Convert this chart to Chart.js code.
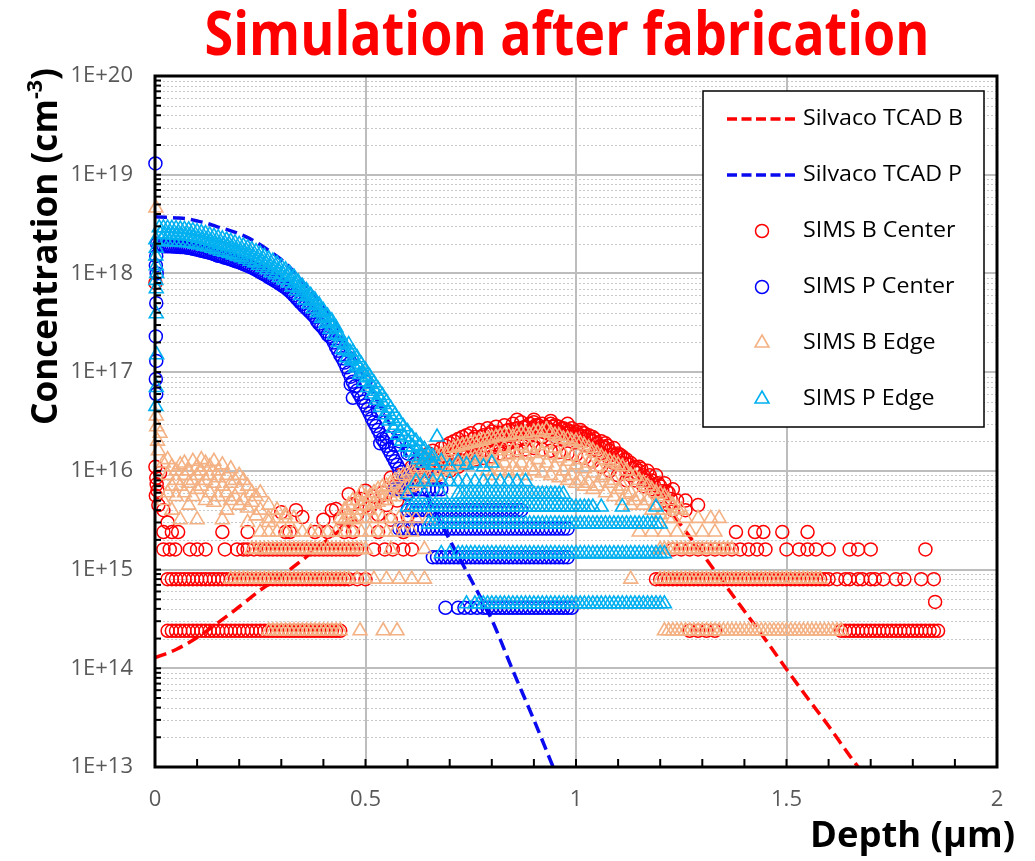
<!DOCTYPE html>
<html>
<head>
<meta charset="utf-8">
<script src="https://cdn.jsdelivr.net/npm/chart.js@4.4.1/dist/chart.umd.min.js"></script>
<style>
body{margin:0;background:#fff}
canvas{display:block}
</style>
</head>
<body>
<canvas id="graficoSims" width="1035" height="861"></canvas>
<script>

// eixos
const xTicks=[0,0.5,1,1.5,2]
const xTickLabels=['0','0.5','1','1.5','2']
const yTicks=[1e13,1e14,1e15,1e16,1e17,1e18,1e19,1e20]
const yTickLabels=['1E+13','1E+14','1E+15','1E+16','1E+17','1E+18','1E+19','1E+20']

const nomesSeries=['Silvaco TCAD B','Silvaco TCAD P','SIMS B Center','SIMS P Center','SIMS B Edge','SIMS P Edge']

// simulacao TCAD [profundidade um, concentracao cm-3]
const tcadB=[[0,1.28e14],[0.05,1.55e14],[0.1,2.05e14],[0.15,2.9e14],[0.2,4.2e14],[0.25,6.2e14],[0.3,8.6e14],[0.35,1.25e15],[0.4,1.85e15],[0.45,2.7e15],[0.5,3.8e15],[0.6,7e15],[0.7,1.2e16],[0.8,1.8e16],[0.9,2.2e16],[1,2e16],[1.1,1.3e16],[1.2,5.5e15],[1.25,2.8e15],[1.3,1.45e15],[1.35,7.4e14],[1.4,3.8e14],[1.45,1.95e14],[1.5,9.8e13],[1.55,5e13],[1.6,2.6e13],[1.65,1.3e13],[1.7,6.8e12]]

const tcadP=[[0,3.75e18],[0.025,3.7e18],[0.05,3.65e18],[0.075,3.58e18],[0.1,3.4e18],[0.125,3.2e18],[0.15,2.95e18],[0.175,2.75e18],[0.2,2.52e18],[0.225,2.25e18],[0.25,1.95e18],[0.275,1.65e18],[0.3,1.38e18],[0.325,1.1e18],[0.35,8.3e17],[0.375,6.4e17],[0.4,4.6e17],[0.425,3.4e17],[0.45,2.05e17],[0.475,1.35e17],[0.5,8.5e16],[0.55,3.4e16],[0.6,1.35e16],[0.65,5.2e15],[0.7,2e15],[0.75,8e14],[0.8,3.1e14],[0.85,9.5e13],[0.9,3e13],[0.95,9e12]]

// SIMS B centro: pontos soltos e linhas de nivel (quantizadas)
const bCentroPontos=[[0.001,8e17],[0.001,1.1e16],[0.003,8.5e15],[0.004,7.3e15],[0.002,5.6e15],[0.006,6.3e15],[0.008,4.5e15],[0.02,4e15],[0.03,3e15],[0.012,9.5e15],
[0.3,3.8e15],[0.335,4e15],[0.35,3.4e15],[0.4,3.2e15],[0.42,4e15],[0.43,4.1e15],[0.44,3.3e15],[0.46,5.8e15],[0.47,4.6e15],[0.48,3.6e15],[0.49,5.2e15],[0.5,6.3e15],[0.51,4.2e15],[0.52,5.5e15],[0.53,3.6e15],[0.54,6e15],[0.55,4.5e15],[0.56,8.5e15],[0.57,7e15],[0.575,5e15],[0.58,9e15],[0.59,7.5e15],[0.53,2.4e15],[0.56,3.2e15],[0.59,2.4e15],[0.6,3.5e15],[0.61,1.6e15],
[0.6,9e15],[0.6,6e15],[0.61,1.1e16],[0.61,7e15],[0.62,1.2e16],[0.62,8e15],[0.63,1e16],[0.63,1.4e16],[0.64,1.3e16],[0.64,8.5e15],[0.65,1.5e16],[0.65,1e16],[0.66,1.2e16],[0.66,1.6e16],[0.67,1.4e16],[0.67,9e15],[0.68,1.7e16],[0.68,1.1e16],[0.69,1.3e16],[0.69,1.8e16],[0.7,1.9e16],[0.7,1.2e16],[0.71,1.5e16],[0.71,2e16],[0.72,2.1e16],[0.72,1.3e16],[0.73,1.7e16],[0.73,2.2e16],[0.74,2.3e16],[0.74,1.4e16],[0.75,1.8e16],[0.75,2.4e16],[0.76,2.2e16],[0.76,1.5e16],[0.77,2.6e16],[0.77,1.9e16],[0.78,2.3e16],[0.78,1.6e16],[0.79,2.7e16],[0.79,2e16],[0.8,2.5e16],[0.8,1.7e16],[0.81,2.8e16],[0.81,2.1e16],[0.82,2.4e16],[0.82,1.8e16],[0.83,2.9e16],[0.83,2.2e16],[0.84,2.6e16],[0.84,1.9e16],[0.85,3e16],[0.85,2.3e16],[0.86,2.7e16],[0.86,2e16],[0.87,3.1e16],[0.87,2.4e16],[0.88,2.8e16],[0.88,2.1e16],[0.89,3e16],[0.89,2.3e16],[0.9,2.7e16],[0.9,3.1e16],[0.91,2.5e16],[0.91,2.9e16],[0.92,3e16],[0.92,2.2e16],[0.93,2.8e16],[0.93,2.4e16],[0.94,2.6e16],[0.94,3e16],[0.95,2.9e16],[0.95,2.2e16],[0.96,2.5e16],[0.96,2.8e16],[0.97,2.7e16],[0.97,2.1e16],[0.98,2.4e16],[0.98,2.6e16],[0.99,2.2e16],[0.99,2.7e16],[1,2.5e16],[1,2e16],[1.01,2.3e16],[1.01,2.6e16],[1.02,2.1e16],[1.02,2.4e16],[1.03,2.3e16],[1.03,1.8e16],[1.04,2e16],[1.04,2.2e16],[1.05,1.9e16],[1.05,1.6e16],[1.06,2e16],[1.06,1.5e16],[1.07,1.7e16],[1.07,1.9e16],[1.08,1.6e16],[1.08,1.3e16],[1.09,1.7e16],[1.09,1.2e16],[1.1,1.4e16],[1.1,1.5e16],[1.11,1.2e16],[1.11,1.4e16],[1.12,1.3e16],[1.12,1e16],[1.13,1.2e16],[1.13,9e15],[1.14,1.1e16],[1.14,8e15],[1.15,1e16],[1.15,1.1e16],[1.16,9e15],[1.16,7e15],[1.17,1e16],[1.17,8e15],[1.18,8e15],[1.18,6.5e15],[1.19,9e15],[1.19,6e15],[1.2,7e15],[1.2,5.5e15],[1.21,7.5e15],[1.21,5e15],[1.22,6e15],[1.22,4.5e15],[1.23,6.5e15],[1.23,4e15],[1.24,5e15],[1.26,4e15],[1.26,5e15],[1.29,4.5e15],
[0.605,7.5e15],[0.615,9e15],[0.625,1e16],[0.635,1.15e16],[0.645,1.05e16],[0.655,1.25e16],[0.665,1.4e16],[0.675,1.15e16],[0.685,1.4e16],[0.695,1.55e16],[0.705,1.5e16],[0.715,1.75e16],[0.725,1.65e16],[0.735,1.95e16],[0.745,1.8e16],[0.755,2.1e16],[0.765,1.85e16],[0.775,2.2e16],[0.785,1.95e16],[0.795,2.35e16],[0.805,2.1e16],[0.815,2.45e16],[0.825,2.1e16],[0.835,2.55e16],[0.845,2.25e16],[0.855,2.65e16],[0.865,2.35e16],[0.875,2.75e16],[0.885,2.45e16],[0.895,2.65e16],[0.905,2.9e16],[0.915,2.7e16],[0.925,2.55e16],[0.935,2.6e16],[0.945,2.8e16],[0.955,2.5e16],[0.965,2.65e16],[0.975,2.4e16],[0.985,2.5e16],[0.995,2.4e16],[1.005,2.25e16],[1.015,2.45e16],[1.025,2.2e16],[1.035,2.05e16],[1.045,2.1e16],[1.055,1.75e16],[1.065,1.75e16],[1.075,1.8e16],[1.085,1.45e16],[1.095,1.45e16],[1.105,1.45e16],[1.115,1.3e16],[1.125,1.15e16],[1.135,1.05e16],[1.145,9.5e15],[1.155,1.05e16],[1.165,8e15],[1.175,9e15],[1.185,7.2e15],[1.195,7.5e15],[1.205,6.2e15],[1.215,6.2e15],[1.225,5.2e15],
[0.7,1e16],[0.72,1.1e16],[0.74,1.2e16],[0.76,1.3e16],[0.78,1.35e16],[0.8,1.4e16],[0.82,1.5e16],[0.84,1.55e16],[0.86,1.6e16],[0.88,1.65e16],[0.9,1.7e16],[0.92,1.65e16],[0.94,1.6e16],[0.96,1.55e16],[0.98,1.5e16],[1,1.45e16],[1.02,1.35e16],[1.04,1.25e16],[1.06,1.1e16],[1.08,1e16],[1.1,9e15],[1.12,8e15],[0.86,3.3e16],[0.9,3.3e16],[0.94,3.2e16],[0.98,3e16]]

const bCentroNiveis=[
[2.4e14,[0.03,0.04,0.05,0.06,0.07,0.08,0.09,0.1,0.11,0.12,0.13,0.14,0.15,0.16,0.17,0.18,0.19,0.2,0.21,0.22,0.23,0.24,0.25,0.26,0.27,0.28,0.29,0.3,0.31,0.32,0.33,0.34,0.35,0.36,0.37,0.38,0.39,0.4,0.41,0.42,0.43,0.44,1.27,1.29,1.31,1.33,1.63,1.64,1.65,1.66,1.67,1.68,1.69,1.7,1.71,1.72,1.73,1.74,1.75,1.76,1.77,1.78,1.79,1.8,1.81,1.82,1.83,1.84,1.85,1.86]],
[8e14,[0.03,0.04,0.05,0.06,0.07,0.08,0.09,0.1,0.11,0.12,0.13,0.14,0.15,0.16,0.17,0.18,0.19,0.2,0.21,0.22,0.23,0.24,0.25,0.26,0.27,0.28,0.29,0.3,0.31,0.32,0.33,0.34,0.35,0.36,0.37,0.38,0.39,0.4,0.41,0.42,0.43,0.44,0.45,0.46,0.48,0.5,1.19,1.2,1.21,1.22,1.23,1.24,1.25,1.26,1.27,1.28,1.29,1.3,1.31,1.32,1.33,1.34,1.35,1.36,1.37,1.38,1.39,1.4,1.41,1.42,1.43,1.44,1.45,1.46,1.47,1.48,1.49,1.5,1.51,1.52,1.53,1.54,1.55,1.56,1.57,1.58,1.59,1.6,1.62,1.64,1.65,1.67,1.68,1.7,1.71,1.73,1.76,1.78,1.82,1.85]],
[1.6e15,[0.02,0.035,0.048,0.083,0.1,0.12,0.166,0.195,0.21,0.22,0.235,0.25,0.26,0.27,0.28,0.29,0.3,0.31,0.32,0.33,0.34,0.35,0.36,0.37,0.38,0.39,0.4,0.41,0.42,0.43,0.44,0.45,0.46,0.47,0.48,0.52,0.546,0.565,0.59,1.23,1.25,1.27,1.29,1.31,1.33,1.35,1.37,1.39,1.41,1.43,1.45,1.5,1.53,1.55,1.57,1.6,1.65,1.67,1.7,1.83]],
[2.4e15,[0.02,0.04,0.055,0.16,0.22,0.31,0.32,0.38,0.41,0.45,0.47,1.38,1.425,1.445,1.49,1.55]],
[4.7e14,[1.853]]
]

// SIMS P centro
const pCentroPontos=[[0.001,1.3e19],[0.005,2e18],[0.003,1.5e18],[0.002,1.2e18],[0.004,1e18],[0.003,5e17],[0.002,2.3e17],[0.003,1.3e17],[0.002,8.5e16],[0.003,6e16],
[0.01,1.93e18],[0.015,1.91e18],[0.02,1.89e18],[0.025,1.89e18],[0.03,1.89e18],[0.035,1.88e18],[0.04,1.88e18],[0.045,1.87e18],[0.05,1.87e18],[0.055,1.86e18],[0.06,1.85e18],[0.065,1.85e18],[0.07,1.85e18],[0.075,1.83e18],[0.08,1.82e18],[0.085,1.8e18],[0.09,1.78e18],[0.095,1.76e18],[0.1,1.75e18],[0.105,1.72e18],[0.11,1.7e18],[0.115,1.68e18],[0.12,1.66e18],[0.125,1.64e18],[0.13,1.62e18],[0.135,1.6e18],[0.14,1.57e18],[0.145,1.54e18],[0.15,1.51e18],[0.155,1.5e18],[0.16,1.48e18],[0.165,1.45e18],[0.17,1.43e18],[0.175,1.41e18],[0.18,1.39e18],[0.185,1.36e18],[0.19,1.34e18],[0.195,1.32e18],[0.2,1.3e18],[0.205,1.27e18],[0.21,1.25e18],[0.215,1.22e18],[0.22,1.2e18],[0.225,1.17e18],[0.23,1.15e18],[0.235,1.12e18],[0.24,1.09e18],[0.245,1.06e18],[0.25,1.03e18],[0.255,1e18],[0.26,9.8e17],[0.265,9.5e17],[0.27,9.2e17],[0.275,8.9e17],[0.28,8.7e17],[0.285,8.4e17],[0.29,8.2e17],[0.295,7.9e17],[0.3,7.7e17],[0.305,7.4e17],[0.31,7.2e17],[0.315,6.9e17],[0.32,6.6e17],[0.325,6.3e17],[0.33,6e17],[0.335,5.7e17],[0.34,5.4e17],[0.345,5.1e17],[0.35,4.9e17],[0.355,4.6e17],[0.36,4.4e17],[0.365,4.2e17],[0.37,4e17],[0.375,3.8e17],[0.38,3.6e17],[0.385,3.3e17],[0.39,3.1e17],[0.395,2.95e17],[0.4,2.8e17],[0.405,2.6e17],[0.41,2.4e17],[0.415,2.3e17],[0.42,2.2e17],[0.425,2e17],[0.43,1.8e17],[0.435,1.65e17],[0.44,1.5e17],[0.445,1.38e17],[0.45,1.25e17],[0.455,1.12e17],[0.46,1e17],[0.465,9e16],[0.47,8e16],[0.475,7.2e16],[0.48,6.5e16],[0.485,6e16],[0.49,5.5e16],[0.495,5e16],[0.5,4.6e16],[0.505,4.2e16],[0.51,3.8e16],[0.515,3.4e16],[0.52,3.1e16],[0.525,2.85e16],[0.53,2.6e16],[0.535,2.35e16],[0.54,2.1e16],[0.545,1.95e16],[0.55,1.8e16],[0.555,1.65e16],[0.56,1.5e16],[0.565,1.38e16],[0.57,1.25e16],[0.575,1.15e16],[0.58,1.05e16],[0.585,9.7e15],[0.59,9e15],[0.595,8.2e15],[0.6,7.5e15],
[0.465,7.5e16],[0.47,5.5e16],[0.535,1.9e16],[0.55,2.2e16],[0.57,1.8e16],[0.58,2e16],[0.6,1.5e16],[0.62,1.2e16],[0.64,1e16],[0.66,1.1e16],[0.53,4e16],[0.5,8e16],[0.585,6.8e15],[0.6,5.8e15]]

const pCentroNiveis=[
[6.5e15,[0.57,0.58,0.59,0.6,0.61,0.62,0.63,0.64,0.65,0.66,0.67,0.68]],
[4e15,[0.6,0.61,0.62,0.63,0.64,0.65,0.66,0.67,0.68,0.69,0.7,0.71,0.72,0.73,0.74,0.75,0.76,0.77,0.78,0.79,0.8,0.81,0.82,0.83,0.84,0.85,0.86,0.87]],
[2.6e15,[0.58,0.59,0.6,0.61,0.62,0.63,0.64,0.65,0.66,0.67,0.68,0.69,0.7,0.71,0.72,0.73,0.74,0.75,0.76,0.77,0.78,0.79,0.8,0.81,0.82,0.83,0.84,0.85,0.86,0.87,0.88,0.89,0.9,0.91,0.92,0.93,0.94,0.95,0.96,0.97,0.98]],
[1.33e15,[0.66,0.67,0.68,0.69,0.7,0.71,0.72,0.73,0.74,0.75,0.76,0.77,0.78,0.79,0.8,0.81,0.82,0.83,0.84,0.85,0.86,0.87,0.88,0.89,0.9,0.91,0.92,0.93,0.94,0.95,0.96,0.97,0.98]],
[4.1e14,[0.69,0.72,0.735,0.75,0.765,0.78,0.79,0.8,0.81,0.82,0.83,0.84,0.85,0.86,0.87,0.88,0.89,0.9,0.91,0.92,0.93,0.94,0.95,0.96,0.97,0.98,0.99]]
]

// SIMS B borda
const bBordaPontos=[[0.002,4.6e18],[0.003,3.6e16],[0.004,2.8e16],[0.006,2e16],[0.008,1.6e16],[0.012,2.4e16],
[0.02,1.2e16],[0.02,5e15],[0.03,9e15],[0.03,6e15],[0.03,1.3e16],[0.04,7e15],[0.04,1.1e16],[0.04,4e15],[0.05,1e16],[0.05,8e15],[0.05,5.5e15],[0.06,1.15e16],[0.06,7e15],[0.06,3.2e15],[0.07,9e15],[0.07,6e15],[0.07,1.2e16],[0.08,1e16],[0.08,7.5e15],[0.08,4.5e15],[0.09,1.25e16],[0.09,8e15],[0.09,5.5e15],[0.1,1.1e16],[0.1,9e15],[0.1,6.5e15],[0.1,3.2e15],[0.11,1.3e16],[0.11,1e16],[0.11,7e15],[0.12,1.2e16],[0.12,8e15],[0.12,5e15],[0.13,1.1e16],[0.13,9e15],[0.13,6e15],[0.14,1.25e16],[0.14,7.5e15],[0.14,4.8e15],[0.15,1e16],[0.15,8.5e15],[0.15,5.5e15],[0.16,1.15e16],[0.16,7e15],[0.16,3.2e15],[0.17,9e15],[0.17,6e15],[0.17,4e15],[0.18,1.05e16],[0.18,7.5e15],[0.18,5e15],[0.19,8e15],[0.19,5.5e15],[0.2,9e15],[0.2,6.5e15],[0.2,4.5e15],[0.21,8e15],[0.21,5e15],[0.22,7e15],[0.22,4.2e15],[0.22,3e15],[0.23,6e15],[0.23,4.8e15],[0.24,5.5e15],[0.24,3.5e15],[0.25,6e15],[0.25,4e15],[0.27,4.5e15],[0.27,3e15],[0.29,4e15],[0.31,3.6e15],
[0.45,4e15],[0.45,3.2e15],[0.47,5e15],[0.47,3.2e15],[0.49,4.5e15],[0.49,6e15],[0.51,5.5e15],[0.51,4e15],[0.53,6.5e15],[0.53,4.8e15],[0.55,7e15],[0.55,5e15],[0.57,8e15],[0.57,5.5e15],[0.59,9e15],[0.59,6.5e15],[0.61,1e16],[0.61,7e15],[0.63,1.1e16],[0.63,7.5e15],[0.65,1.3e16],[0.65,8.5e15],[0.67,1.4e16],[0.67,9e15],[0.69,1.5e16],[0.69,1e16],[0.71,1.7e16],[0.71,1.1e16],[0.73,1.8e16],[0.73,1.2e16],[0.75,1.9e16],[0.75,1.3e16],[0.77,2e16],[0.77,1.4e16],[0.79,2.1e16],[0.79,1.5e16],[0.79,1e16],[0.81,2.2e16],[0.81,1.6e16],[0.81,1.1e16],[0.83,2.3e16],[0.83,1.7e16],[0.83,1.2e16],[0.85,2.2e16],[0.85,1.6e16],[0.85,1.1e16],[0.87,2.4e16],[0.87,1.8e16],[0.87,1.2e16],[0.89,2.3e16],[0.89,1.7e16],[0.89,1.1e16],[0.91,2.5e16],[0.91,1.8e16],[0.91,1.3e16],[0.93,2.6e16],[0.93,1.9e16],[0.93,1.2e16],[0.95,2.3e16],[0.95,1.7e16],[0.95,1.1e16],[0.97,2.1e16],[0.97,1.5e16],[0.97,1e16],[0.99,2e16],[0.99,1.4e16],[0.99,9e15],[1.01,1.9e16],[1.01,1.3e16],[1.01,8e15],[1.03,1.7e16],[1.03,1.2e16],[1.03,7.5e15],[1.05,1.5e16],[1.05,1.1e16],[1.05,7e15],[1.07,1.3e16],[1.07,9e15],[1.07,6e15],[1.09,1.2e16],[1.09,8e15],[1.09,5.5e15],[1.11,1.1e16],[1.11,7e15],[1.11,5e15],[1.13,9e15],[1.13,6e15],[1.13,4.5e15],[1.15,8e15],[1.15,5.5e15],[1.17,7e15],[1.17,5e15],[1.19,6e15],[1.19,4.5e15],[1.21,5.5e15],[1.21,4e15],[1.23,4.5e15],[1.25,4e15],
[0.46,4.5e15],[0.46,3.6e15],[0.48,5e15],[0.48,4e15],[0.5,5.5e15],[0.5,4.4e15],[0.52,6e15],[0.52,4.6e15],[0.54,6.8e15],[0.54,5e15],[0.56,7.5e15],[0.56,5.5e15],[0.58,8.5e15],[0.58,6e15],[0.6,9.5e15],[0.6,6.8e15],[0.62,1.05e16],[0.62,7.5e15],[0.64,1.2e16],[0.64,8e15],[0.66,1.35e16],[0.66,9e15],[0.68,1.45e16],[0.68,1e16],[0.7,1.6e16],[0.7,1.05e16],[0.72,1.75e16],[0.72,1.15e16],[0.74,1.85e16],[0.74,1.25e16],[0.76,1.95e16],[0.76,1.35e16],[0.78,2.05e16],[0.78,1.45e16],[0.8,2.15e16],[0.8,1.3e16],[0.82,2.25e16],[0.82,1.4e16],[0.84,2.3e16],[0.84,1.45e16],[0.86,2.35e16],[0.86,1.5e16],[0.88,2.4e16],[0.88,1.45e16],[0.9,2.45e16],[0.9,1.5e16],[0.92,2.45e16],[0.92,1.55e16],[0.94,2.4e16],[0.94,1.45e16],[0.96,2.25e16],[0.96,1.35e16],[0.98,2.1e16],[0.98,1.25e16],[1,2e16],[1,1.15e16],[1.02,1.8e16],[1.02,1.05e16],[1.04,1.6e16],[1.04,9.5e15],[1.06,1.4e16],[1.06,8.5e15],[1.08,1.25e16],[1.08,7.5e15],[1.1,1.15e16],[1.1,6.5e15],[1.12,1e16],[1.12,5.8e15],[1.14,8.8e15],[1.14,5e15],[1.16,7.5e15],[1.16,4.5e15],[1.18,6.5e15],[1.18,4e15],[1.2,5.8e15],[1.2,3.6e15],[1.22,5e15],[1.22,3.3e15],[1.24,4.2e15],
[0.8,9e15],[0.82,1e16],[0.84,9.5e15],[0.86,1e16],[0.88,9e15],[0.9,1e16],[0.92,9.5e15],[0.94,9e15],[0.96,8.5e15],[0.98,8e15],[1,7.5e15],[1.02,7e15],[1.04,6.5e15]]

const bBordaNiveis=[
[2.4e14,[0.27,0.28,0.29,0.3,0.31,0.32,0.33,0.34,0.35,0.36,0.37,0.38,0.39,0.4,0.41,0.42,0.43,0.44,0.487,0.542,0.575,1.21,1.22,1.23,1.24,1.25,1.26,1.27,1.28,1.29,1.3,1.31,1.32,1.33,1.34,1.35,1.36,1.37,1.38,1.39,1.4,1.41,1.42,1.43,1.44,1.45,1.46,1.47,1.48,1.49,1.5,1.51,1.52,1.53,1.54,1.55,1.56,1.57,1.58,1.59,1.6,1.61,1.62,1.63]],
[8e14,[0.18,0.19,0.2,0.21,0.22,0.23,0.24,0.25,0.26,0.27,0.28,0.29,0.3,0.31,0.32,0.33,0.34,0.35,0.36,0.37,0.38,0.39,0.4,0.41,0.42,0.43,0.44,0.45,0.46,0.48,0.5,0.52,0.55,0.58,0.61,0.64,1.13,1.2,1.21,1.22,1.23,1.24,1.25,1.26,1.27,1.28,1.29,1.3,1.31,1.32,1.33,1.34,1.35,1.36,1.37,1.38,1.39,1.4,1.41,1.42,1.43,1.44,1.45,1.46,1.47,1.48,1.49,1.5,1.51,1.52,1.53,1.54,1.55,1.56,1.57,1.58]],
[1.6e15,[0.23,0.24,0.25,0.26,0.27,0.28,0.29,0.3,0.31,0.32,0.33,0.34,0.35,0.36,0.37,0.38,0.39,0.4,0.41,0.42,0.43,0.44,0.45,0.46,0.47,0.48,0.49,0.5,0.56,0.64,1.2,1.21,1.22,1.23,1.24,1.25,1.26,1.27,1.28,1.29,1.3,1.31,1.32,1.33,1.34,1.35,1.36,1.37]],
[2.4e15,[0.25,0.27,0.29,0.31,0.33,0.35,0.37,0.39,0.41,0.43,0.45,0.47,0.49,0.51,0.53,0.55,0.57,0.59,0.61,1.15,1.18,1.21,1.24,1.27,1.3,1.33]],
[3.3e15,[0.27,0.29,0.31,0.33,0.44,0.46,0.48,0.5,0.52,0.54,0.56,0.58,0.6,0.62,0.65,1.23,1.26,1.29,1.32,1.34]]
]

// SIMS P borda
const pBordaPontos=[[0.002,2.2e18],[0.003,1.8e18],[0.002,1.5e18],[0.003,1.2e18],[0.004,1e18],[0.002,8.5e17],[0.003,7e17],[0.003,3.9e17],[0.004,1.5e17],[0.003,7e16],[0.002,4.5e16],
[0.01,2.9e18],[0.013,2.5e18],[0.016,2.15e18],[0.02,2.9e18],[0.023,2.5e18],[0.026,2.1e18],[0.03,2.88e18],[0.033,2.47e18],[0.036,2.1e18],[0.04,2.86e18],[0.043,2.46e18],[0.046,2.09e18],[0.05,2.85e18],[0.053,2.45e18],[0.056,2.08e18],[0.06,2.82e18],[0.063,2.43e18],[0.066,2.06e18],[0.07,2.8e18],[0.073,2.41e18],[0.076,2.05e18],[0.08,2.77e18],[0.083,2.38e18],[0.086,2.02e18],[0.09,2.71e18],[0.093,2.33e18],[0.096,1.98e18],
[0.1,2.65e18],[0.103,2.28e18],[0.106,1.94e18],[0.11,2.59e18],[0.113,2.22e18],[0.116,1.89e18],[0.12,2.53e18],[0.123,2.17e18],[0.126,1.85e18],[0.13,2.46e18],[0.133,2.11e18],[0.136,1.8e18],[0.14,2.38e18],[0.143,2.04e18],[0.146,1.74e18],[0.15,2.3e18],[0.153,1.98e18],[0.156,1.68e18],[0.16,2.24e18],[0.163,1.92e18],[0.166,1.64e18],[0.17,2.18e18],[0.173,1.87e18],[0.176,1.59e18],[0.18,2.11e18],[0.183,1.81e18],[0.186,1.54e18],[0.19,2.04e18],[0.193,1.75e18],[0.196,1.49e18],
[0.2,1.97e18],[0.203,1.69e18],[0.206,1.44e18],[0.21,1.9e18],[0.213,1.63e18],[0.216,1.39e18],[0.22,1.82e18],[0.223,1.57e18],[0.226,1.33e18],[0.23,1.74e18],[0.233,1.5e18],[0.236,1.28e18],[0.24,1.66e18],[0.243,1.42e18],[0.246,1.21e18],[0.25,1.58e18],[0.253,1.35e18],[0.256,1.15e18],[0.26,1.49e18],[0.263,1.28e18],[0.266,1.09e18],[0.27,1.4e18],[0.273,1.2e18],[0.276,1.02e18],[0.28,1.33e18],[0.283,1.14e18],[0.286,9.7e17],[0.29,1.25e18],[0.293,1.07e18],[0.296,9.1e17],
[0.3,1.17e18],[0.303,1e18],[0.306,8.6e17],[0.31,1.09e18],[0.313,9.4e17],[0.316,8e17],[0.32,1e18],[0.323,8.6e17],[0.326,7.3e17],[0.33,9.2e17],[0.333,7.9e17],[0.336,6.7e17],[0.34,8.2e17],[0.343,7.1e17],[0.346,6e17],[0.35,7.4e17],[0.353,6.4e17],[0.356,5.4e17],[0.36,6.7e17],[0.363,5.8e17],[0.366,4.9e17],[0.37,6e17],[0.373,5.2e17],[0.376,4.4e17],[0.38,5.4e17],[0.383,4.7e17],[0.386,4e17],[0.39,4.8e17],[0.393,4.1e17],[0.396,3.5e17],
[0.4,4.2e17],[0.403,3.6e17],[0.406,3.1e17],[0.41,3.7e17],[0.413,3.2e17],[0.416,2.7e17],[0.42,3.3e17],[0.423,2.9e17],[0.426,2.4e17],[0.43,2.8e17],[0.433,2.4e17],[0.436,2e17],[0.44,2.3e17],[0.443,2e17],[0.446,1.7e17],[0.45,1.9e17],[0.453,1.65e17],[0.456,1.4e17],
[0.46,1.9e17],[0.463,1.6e17],[0.466,1.3e17],[0.47,1.6e17],[0.473,1.35e17],[0.476,1.1e17],[0.48,1.4e17],[0.483,1.15e17],[0.486,9.5e16],[0.49,1.2e17],[0.493,1e17],[0.496,8e16],[0.5,1.05e17],[0.503,8.8e16],[0.506,7e16],[0.51,9e16],[0.513,7.5e16],[0.516,6e16],[0.52,7.8e16],[0.523,6.4e16],[0.526,5.2e16],[0.53,6.7e16],[0.533,5.5e16],[0.536,4.4e16],[0.54,5.8e16],[0.543,4.7e16],[0.546,3.7e16],[0.55,5e16],[0.553,4e16],[0.556,3.2e16],
[0.56,4.3e16],[0.563,3.4e16],[0.566,2.7e16],[0.57,3.7e16],[0.573,2.9e16],[0.576,2.3e16],[0.58,3.2e16],[0.583,2.5e16],[0.586,2e16],[0.59,2.8e16],[0.593,2.2e16],[0.596,1.75e16],[0.6,2.5e16],[0.603,1.95e16],[0.606,1.55e16],[0.61,2.2e16],[0.613,1.75e16],[0.616,1.4e16],[0.62,2e16],[0.623,1.6e16],[0.626,1.3e16],[0.63,1.8e16],[0.633,1.45e16],[0.636,1.2e16],[0.64,1.65e16],[0.643,1.35e16],[0.65,1.5e16],[0.653,1.25e16],[0.66,1.4e16],[0.663,1.15e16],
[0.67,2.2e16],[0.66,1.15e16],[0.68,1.25e16],[0.7,1.1e16],[0.72,1.25e16],[0.74,1.15e16],[0.76,1.2e16],[0.78,1.1e16],[0.8,1.2e16]]

const pBordaNiveis=[
[7.8e15,[0.62,0.64,0.66,0.68,0.7,0.72,0.74,0.76,0.78,0.8,0.82,0.84,0.86,0.88]],
[5.8e15,[0.6,0.64,0.68,0.72,0.73,0.74,0.75,0.76,0.77,0.78,0.79,0.8,0.81,0.82,0.83,0.84,0.85,0.86,0.87,0.88,0.89,0.9,0.91,0.92,0.93,0.94,0.95,0.96,0.97]],
[4.3e15,[0.6,0.61,0.62,0.63,0.64,0.65,0.66,0.67,0.68,0.69,0.7,0.71,0.72,0.73,0.74,0.75,0.76,0.77,0.78,0.79,0.8,0.81,0.82,0.83,0.84,0.85,0.86,0.87,0.88,0.89,0.9,0.91,0.92,0.93,0.94,0.95,0.96,0.97,0.98,0.99,1,1.01,1.02,1.03,1.04,1.06,1.11,1.19]],
[2.9e15,[0.65,0.66,0.67,0.68,0.69,0.7,0.71,0.72,0.73,0.74,0.75,0.76,0.77,0.78,0.79,0.8,0.81,0.82,0.83,0.84,0.85,0.86,0.87,0.88,0.89,0.9,0.91,0.92,0.93,0.94,0.95,0.96,0.97,0.98,0.99,1,1.01,1.02,1.03,1.04,1.05,1.06,1.07,1.08,1.09,1.1,1.11,1.12,1.13,1.14,1.15,1.16,1.17,1.18,1.19,1.2]],
[1.45e15,[0.68,0.7,0.72,0.73,0.74,0.75,0.76,0.77,0.78,0.79,0.8,0.81,0.82,0.83,0.84,0.85,0.86,0.87,0.88,0.89,0.9,0.91,0.92,0.93,0.94,0.95,0.96,0.97,0.98,0.99,1,1.01,1.02,1.03,1.04,1.05,1.06,1.07,1.08,1.09,1.1,1.11,1.12,1.13,1.14,1.15,1.16,1.17,1.18,1.19,1.2,1.21]],
[4.5e14,[0.74,0.76,0.77,0.78,0.79,0.8,0.81,0.82,0.83,0.84,0.85,0.86,0.87,0.88,0.89,0.9,0.91,0.92,0.93,0.94,0.95,0.96,0.97,0.98,0.99,1,1.01,1.02,1.03,1.04,1.05,1.06,1.07,1.08,1.09,1.1,1.11,1.12,1.13,1.14,1.15,1.16,1.17,1.18,1.19,1.2,1.21]]
]

const fonte='"Open Sans","Liberation Sans",sans-serif'

function paraPontos(pares){
return pares.map(p=>({x:p[0],y:p[1]}))
}

function juntarNiveis(pontos,niveis){
let lista=paraPontos(pontos)
niveis.forEach(n=>{
n[1].forEach(d=>lista.push({x:d,y:n[0]}))
})
return lista
}

function serieLinha(nome,dados,cor,ordem){
return{
label:nome,
data:paraPontos(dados),
showLine:true,
borderColor:cor,
backgroundColor:cor,
borderWidth:3.5,
borderDash:[12,6],
pointRadius:0,
cubicInterpolationMode:'monotone',
fill:false,
order:ordem
}
}

function serieSims(nome,dados,cor,estilo,raio,espessura,ordem){
return{
label:nome,
data:dados,
showLine:false,
pointStyle:estilo,
pointRadius:raio,
pointBorderWidth:espessura,
pointBorderColor:cor,
borderColor:cor,
pointBackgroundColor:'rgba(0,0,0,0)',
backgroundColor:'rgba(0,0,0,0)',
clip:false,
order:ordem
}
}

function textoAjustado(ctx,texto,x,y,fonteTxt,largura,alinhar){
ctx.save()
ctx.font=fonteTxt
let w=ctx.measureText(texto).width
ctx.translate(x,y)
ctx.scale(largura/w,1)
ctx.textAlign=alinhar
ctx.fillText(texto,0,0)
ctx.restore()
}

const desenhoExtra={
id:'desenhoExtra',
beforeDatasetsDraw(chart){
let{ctx,chartArea:a,scales:{x,y}}=chart
ctx.save()
// grade secundaria pontilhada
ctx.strokeStyle='#c9c9c9'
ctx.lineWidth=1
ctx.setLineDash([2,2])
for(let e=13;e<20;e++){
for(let m=2;m<10;m++){
let py=Math.round(y.getPixelForValue(m*Math.pow(10,e)))+0.5
ctx.beginPath()
ctx.moveTo(a.left,py)
ctx.lineTo(a.right,py)
ctx.stroke()
}
}
ctx.setLineDash([])
ctx.strokeStyle='#bdbdbd'
ctx.lineWidth=2
yTicks.forEach(v=>{
let py=Math.round(y.getPixelForValue(v))
ctx.beginPath()
ctx.moveTo(a.left,py)
ctx.lineTo(a.right,py)
ctx.stroke()
})
xTicks.forEach(v=>{
let px=Math.round(x.getPixelForValue(v))
ctx.beginPath()
ctx.moveTo(px,a.top)
ctx.lineTo(px,a.bottom)
ctx.stroke()
})
ctx.restore()
},
afterDraw(chart){
let{ctx,chartArea:a,scales:{x,y}}=chart
ctx.save()
ctx.strokeStyle='#000'
ctx.lineWidth=2
// marcas dos eixos
for(let e=13;e<20;e++){
for(let m=1;m<10;m++){
let py=y.getPixelForValue(m*Math.pow(10,e))
ctx.beginPath()
ctx.moveTo(a.left,py)
ctx.lineTo(a.left+6,py)
ctx.stroke()
}
}
for(let i=0;i<=20;i++){
let px=x.getPixelForValue(i/10)
ctx.beginPath()
ctx.moveTo(px,a.bottom)
ctx.lineTo(px,a.bottom-8)
ctx.stroke()
}
ctx.lineWidth=3
ctx.strokeRect(a.left,a.top,a.right-a.left,a.bottom-a.top)

// legenda
ctx.fillStyle='#fff'
ctx.fillRect(703,91,281,336)
ctx.lineWidth=1.5
ctx.strokeRect(703,91,281,336)
let linhasY=[119,175,231,287,343,399]
ctx.font='22px '+fonte
let esc=160/ctx.measureText(nomesSeries[0]).width
chart.data.datasets.forEach((ds,i)=>{
let ly=linhasY[i]
if(ds.showLine){
ctx.save()
ctx.strokeStyle=ds.borderColor
ctx.lineWidth=3.5
ctx.setLineDash([10,4.5])
ctx.beginPath()
ctx.moveTo(727,ly)
ctx.lineTo(797,ly)
ctx.stroke()
ctx.restore()
}else{
ctx.save()
ctx.strokeStyle=ds.pointBorderColor
ctx.fillStyle='rgba(0,0,0,0)'
ctx.lineWidth=ds.pointBorderWidth
Chart.helpers.drawPoint(ctx,{pointStyle:ds.pointStyle,rotation:0,radius:ds.pointRadius,borderWidth:ds.pointBorderWidth},762,ly)
ctx.restore()
}
ctx.save()
ctx.fillStyle='#000'
ctx.font='22px '+fonte
ctx.textBaseline='middle'
ctx.translate(803,ly)
ctx.scale(esc,1)
ctx.textAlign='left'
ctx.fillText(ds.label,0,0)
ctx.restore()
})

// titulo
ctx.fillStyle='#ff0000'
ctx.textBaseline='alphabetic'
textoAjustado(ctx,'Simulation after fabrication',567,55,'bold 60px '+fonte,725,'center')

// titulo eixo x
ctx.fillStyle='#000'
textoAjustado(ctx,'Depth (μm)',1015,847,'bold 36px '+fonte,205,'right')

// titulo eixo y com expoente
let fPrinc='bold 36px '+fonte
let fSup='bold 22px '+fonte
ctx.font=fPrinc
let w1=ctx.measureText('Concentration (cm').width
let w3=ctx.measureText(')').width
ctx.font=fSup
let w2=ctx.measureText('-3').width
let s=(425-68)/(w1+w2+w3)
ctx.translate(57,425)
ctx.rotate(-Math.PI/2)
ctx.scale(s,1)
ctx.font=fPrinc
ctx.fillText('Concentration (cm',0,0)
ctx.font=fSup
ctx.fillText('-3',w1,-15)
ctx.font=fPrinc
ctx.fillText(')',w1+w2,0)
ctx.restore()
}
}

let ctxGrafico=document.getElementById('graficoSims')

let graficoSims=new Chart(ctxGrafico,{
type:'scatter',
data:{
datasets:[
serieLinha(nomesSeries[0],tcadB,'#ff0000',6),
serieLinha(nomesSeries[1],tcadP,'#0a0af0',5),
serieSims(nomesSeries[2],juntarNiveis(bCentroPontos,bCentroNiveis),'#ff0000','circle',6.5,1.5,4),
serieSims(nomesSeries[3],juntarNiveis(pCentroPontos,pCentroNiveis),'#0000ff','circle',6.5,1.5,3),
serieSims(nomesSeries[4],juntarNiveis(bBordaPontos,bBordaNiveis),'#f4b183','triangle',8,1.6,2),
serieSims(nomesSeries[5],juntarNiveis(pBordaPontos,pBordaNiveis),'#00b0f0','triangle',8,1.6,1)
]
},
options:{
responsive:false,
animation:false,
devicePixelRatio:1,
layout:{padding:{top:76,right:38,bottom:0,left:0}},
plugins:{
legend:{display:false},
tooltip:{enabled:false},
title:{display:false}
},
scales:{
x:{
type:'linear',
min:0,
max:2,
afterBuildTicks:s=>{s.ticks=xTicks.map(v=>({value:v}))},
afterFit:s=>{s.height=94},
grid:{display:false,drawTicks:false},
border:{display:false},
ticks:{
callback:(v,i)=>xTickLabels[i],
color:'#595959',
font:{family:fonte,size:22},
padding:20,
maxRotation:0,
autoSkip:false
}
},
y:{
type:'logarithmic',
min:1e13,
max:1e20,
afterBuildTicks:s=>{s.ticks=yTicks.map(v=>({value:v}))},
afterFit:s=>{s.width=155},
grid:{display:false,drawTicks:false},
border:{display:false},
ticks:{
callback:(v,i)=>yTickLabels[i],
color:'#595959',
font:{family:fonte,size:22},
padding:22,
autoSkip:false
}
}
}
},
plugins:[desenhoExtra]
})

</script>
</body>
</html>
